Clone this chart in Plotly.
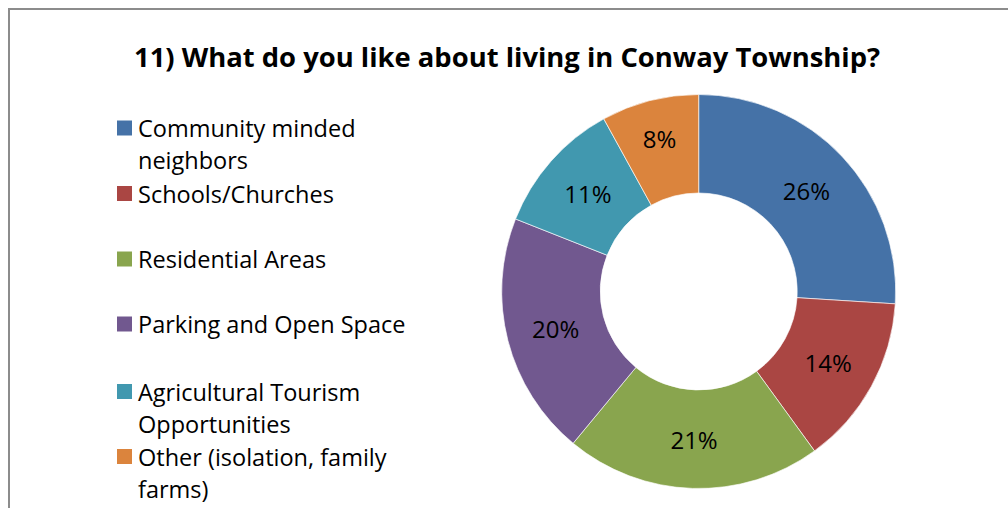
import plotly.graph_objects as go

W, H = 1008, 508

# Survey answers and their shares (percent of respondents)
labels = [
    "Community minded neighbors",
    "Schools/Churches",
    "Residential Areas",
    "Parking and Open Space",
    "Agricultural Tourism Opportunities",
    "Other (isolation, family farms)",
]
shares = [26, 14, 21, 20, 11, 8]
# Wrapped legend text, one list of lines per answer
legend_lines = [
    ["Community minded", "neighbors"],
    ["Schools/Churches"],
    ["Residential Areas"],
    ["Parking and Open Space"],
    ["Agricultural Tourism", "Opportunities"],
    ["Other (isolation, family", "farms)"],
]
colors = ["#4572A7", "#AA4643", "#89A54E", "#71588F", "#4198AF", "#DB843D"]
title_text = "11) What do you like about living in Conway Township?"

FONT = "Open Sans"


def px(x):
    return x / W


def py(y):
    return 1 - y / H


cx, cy, r = 698.7, 291.5, 197.0

fig = go.Figure(
    go.Pie(
        labels=labels,
        values=shares,
        hole=0.5,
        sort=False,
        direction="clockwise",
        rotation=0,
        marker=dict(colors=colors, line=dict(color="rgba(255,255,255,0.8)", width=0.8)),
        texttemplate="%{percent:.0%}",
        textposition="inside",
        insidetextorientation="horizontal",
        textfont=dict(family=FONT, size=24, color="black"),
        hoverinfo="label+percent",
        showlegend=False,
        domain=dict(x=[px(cx - r), px(cx + r)], y=[py(cy + r), py(cy - r)]),
    )
)

shapes = [
    # outer chart frame (runs off the right and bottom edges)
    dict(type="rect", xref="paper", yref="paper",
         x0=px(9), y0=py(H + 10), x1=px(W + 10), y1=py(9),
         line=dict(color="#8C8C8C", width=2), fillcolor="rgba(0,0,0,0)", layer="below"),
]
annotations = [
    dict(text=f"<b>{title_text}</b>", xref="paper", yref="paper",
         x=px(506.5), y=py(56), xanchor="center", yanchor="middle",
         showarrow=False, font=dict(family=FONT, size=27.4, color="black")),
]

# Hand-placed legend: colored square plus wrapped text
item_centers = [128, 193.5, 259, 324, 391.5, 456.5]
line_gap = 32
for yc, lines, col in zip(item_centers, legend_lines, colors):
    shapes.append(dict(type="rect", xref="paper", yref="paper",
                       x0=px(117), x1=px(132), y0=py(yc + 7.5), y1=py(yc - 7.5),
                       fillcolor=col, line=dict(width=0)))
    for i, ln in enumerate(lines):
        annotations.append(dict(text=ln, xref="paper", yref="paper",
                                x=px(136), y=py(yc + i * line_gap), xanchor="left", yanchor="middle",
                                showarrow=False,
                                font=dict(family=FONT, size=23.5, color="black")))

fig.update_layout(
    width=W, height=H,
    margin=dict(l=0, r=0, t=0, b=0),
    paper_bgcolor="white",
    plot_bgcolor="white",
    shapes=shapes,
    annotations=annotations,
)

fig.write_html("out.html")
